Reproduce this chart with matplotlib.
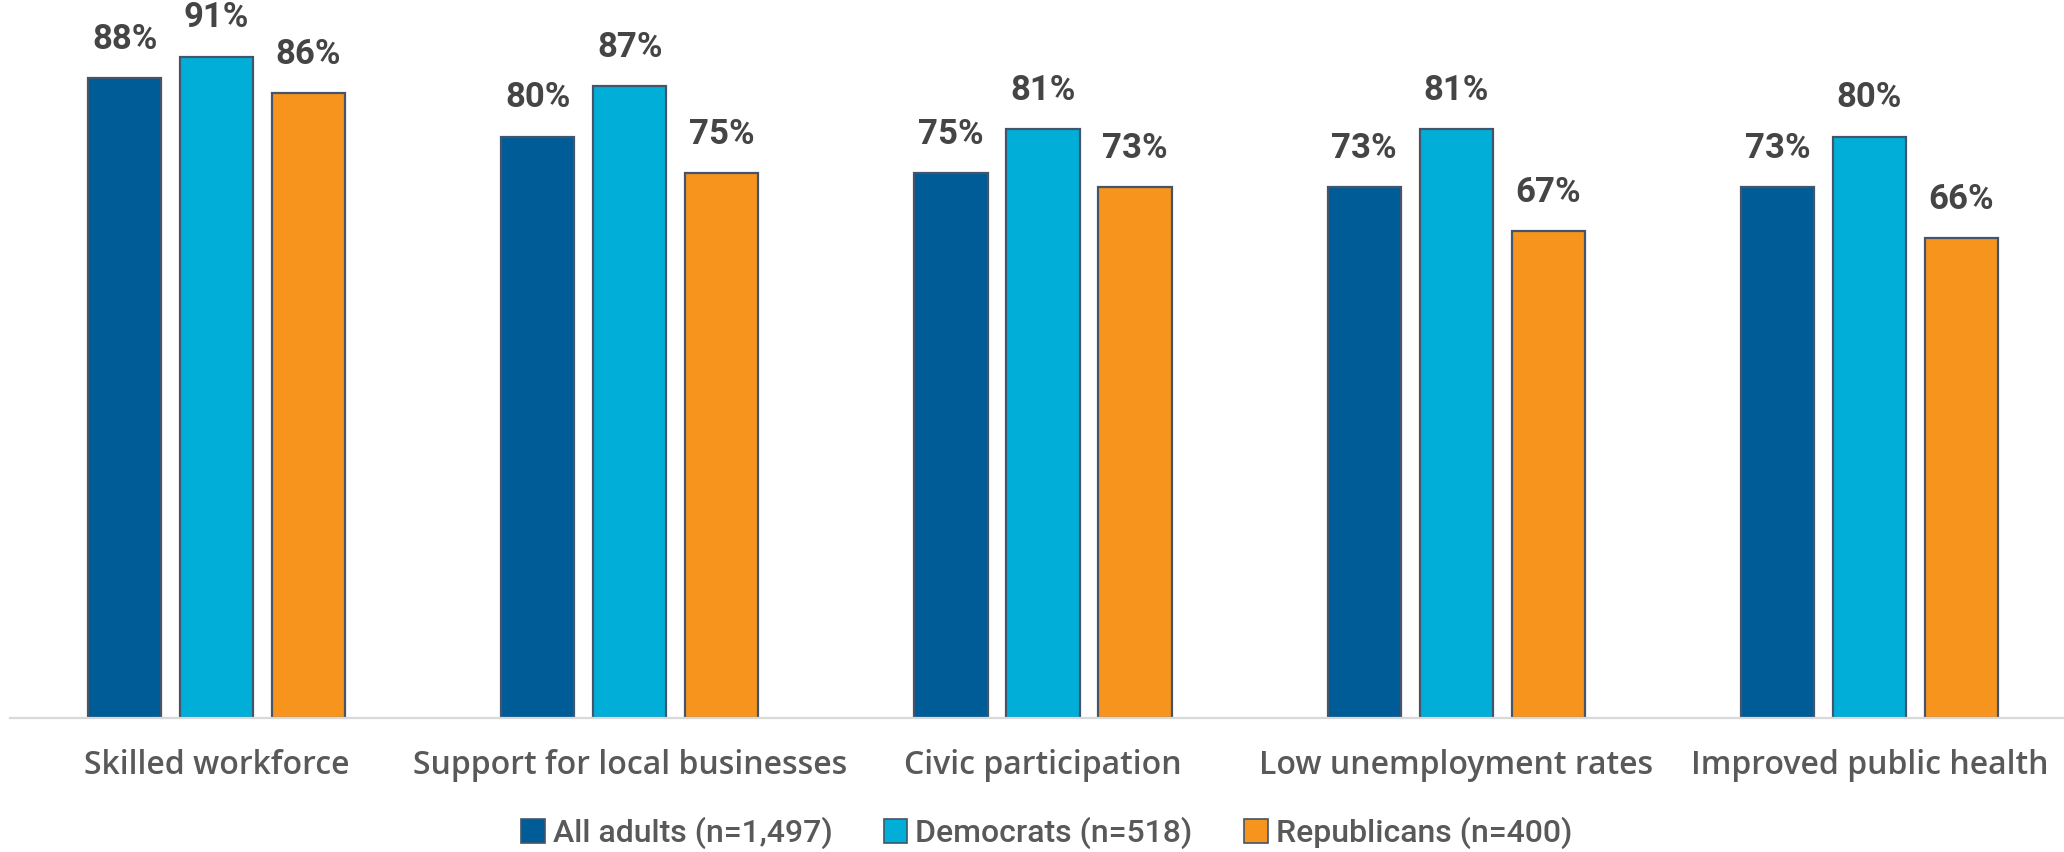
import numpy as np
import matplotlib.pyplot as plt
from matplotlib.patches import Patch

categories = ["Skilled workforce", "Support for local businesses", "Civic participation",
              "Low unemployment rates", "Improved public health"]
series_names = ["All adults (n=1,497)", "Democrats (n=518)", "Republicans (n=400)"]
all_adults = [88, 80, 75, 73, 73]
democrats = [91, 87, 81, 81, 80]
republicans = [86, 75, 73, 67, 66]

colors = ["#005C97", "#00AED8", "#F6941E"]
edge = "#44546A"

fig = plt.figure(figsize=(20.64, 8.52), dpi=100)
ax = fig.add_axes([10 / 2064, 134 / 852, 2066 / 2064, 718 / 852])

x = np.arange(len(categories))
width = 0.177
step = 0.2226
for i, (vals, c) in enumerate(zip([all_adults, democrats, republicans], colors)):
    pos = x + (i - 1) * step
    ax.bar(pos, vals, width, color=c, edgecolor=edge, linewidth=1.6)
    for p, v in zip(pos, vals):
        ax.annotate(f"{v}%", (p, v), xytext=(0, 16), textcoords="offset points",
                    ha="center", va="bottom", fontsize=25, fontweight="bold",
                    family="Roboto", color="#454545")

ax.set_xlim(-0.5, 4.5)
ax.set_ylim(0, 98.8)
for s in ["top", "right", "left"]:
    ax.spines[s].set_visible(False)
ax.spines["bottom"].set_color("#D9D9D9")
ax.spines["bottom"].set_linewidth(1.6)
ax.set_yticks([])
ax.set_xticks(x)
ax.set_xticklabels(categories, fontsize=23, fontweight="semibold", family="Open Sans",
                   color="#595959")
ax.tick_params(axis="x", length=0, pad=22)

handles = [Patch(facecolor=c, edgecolor=edge, linewidth=1.2) for c in colors]
fig.legend(handles, series_names, loc="center", bbox_to_anchor=(0.507, 0.022),
           ncol=3, frameon=False, prop={"family": "Roboto", "size": 23, "weight": "medium"},
           labelcolor="#595959", handlelength=0.75, handleheight=0.75,
           handletextpad=0.25, columnspacing=1.6)

fig.savefig("out.png", dpi=100, facecolor="white")
